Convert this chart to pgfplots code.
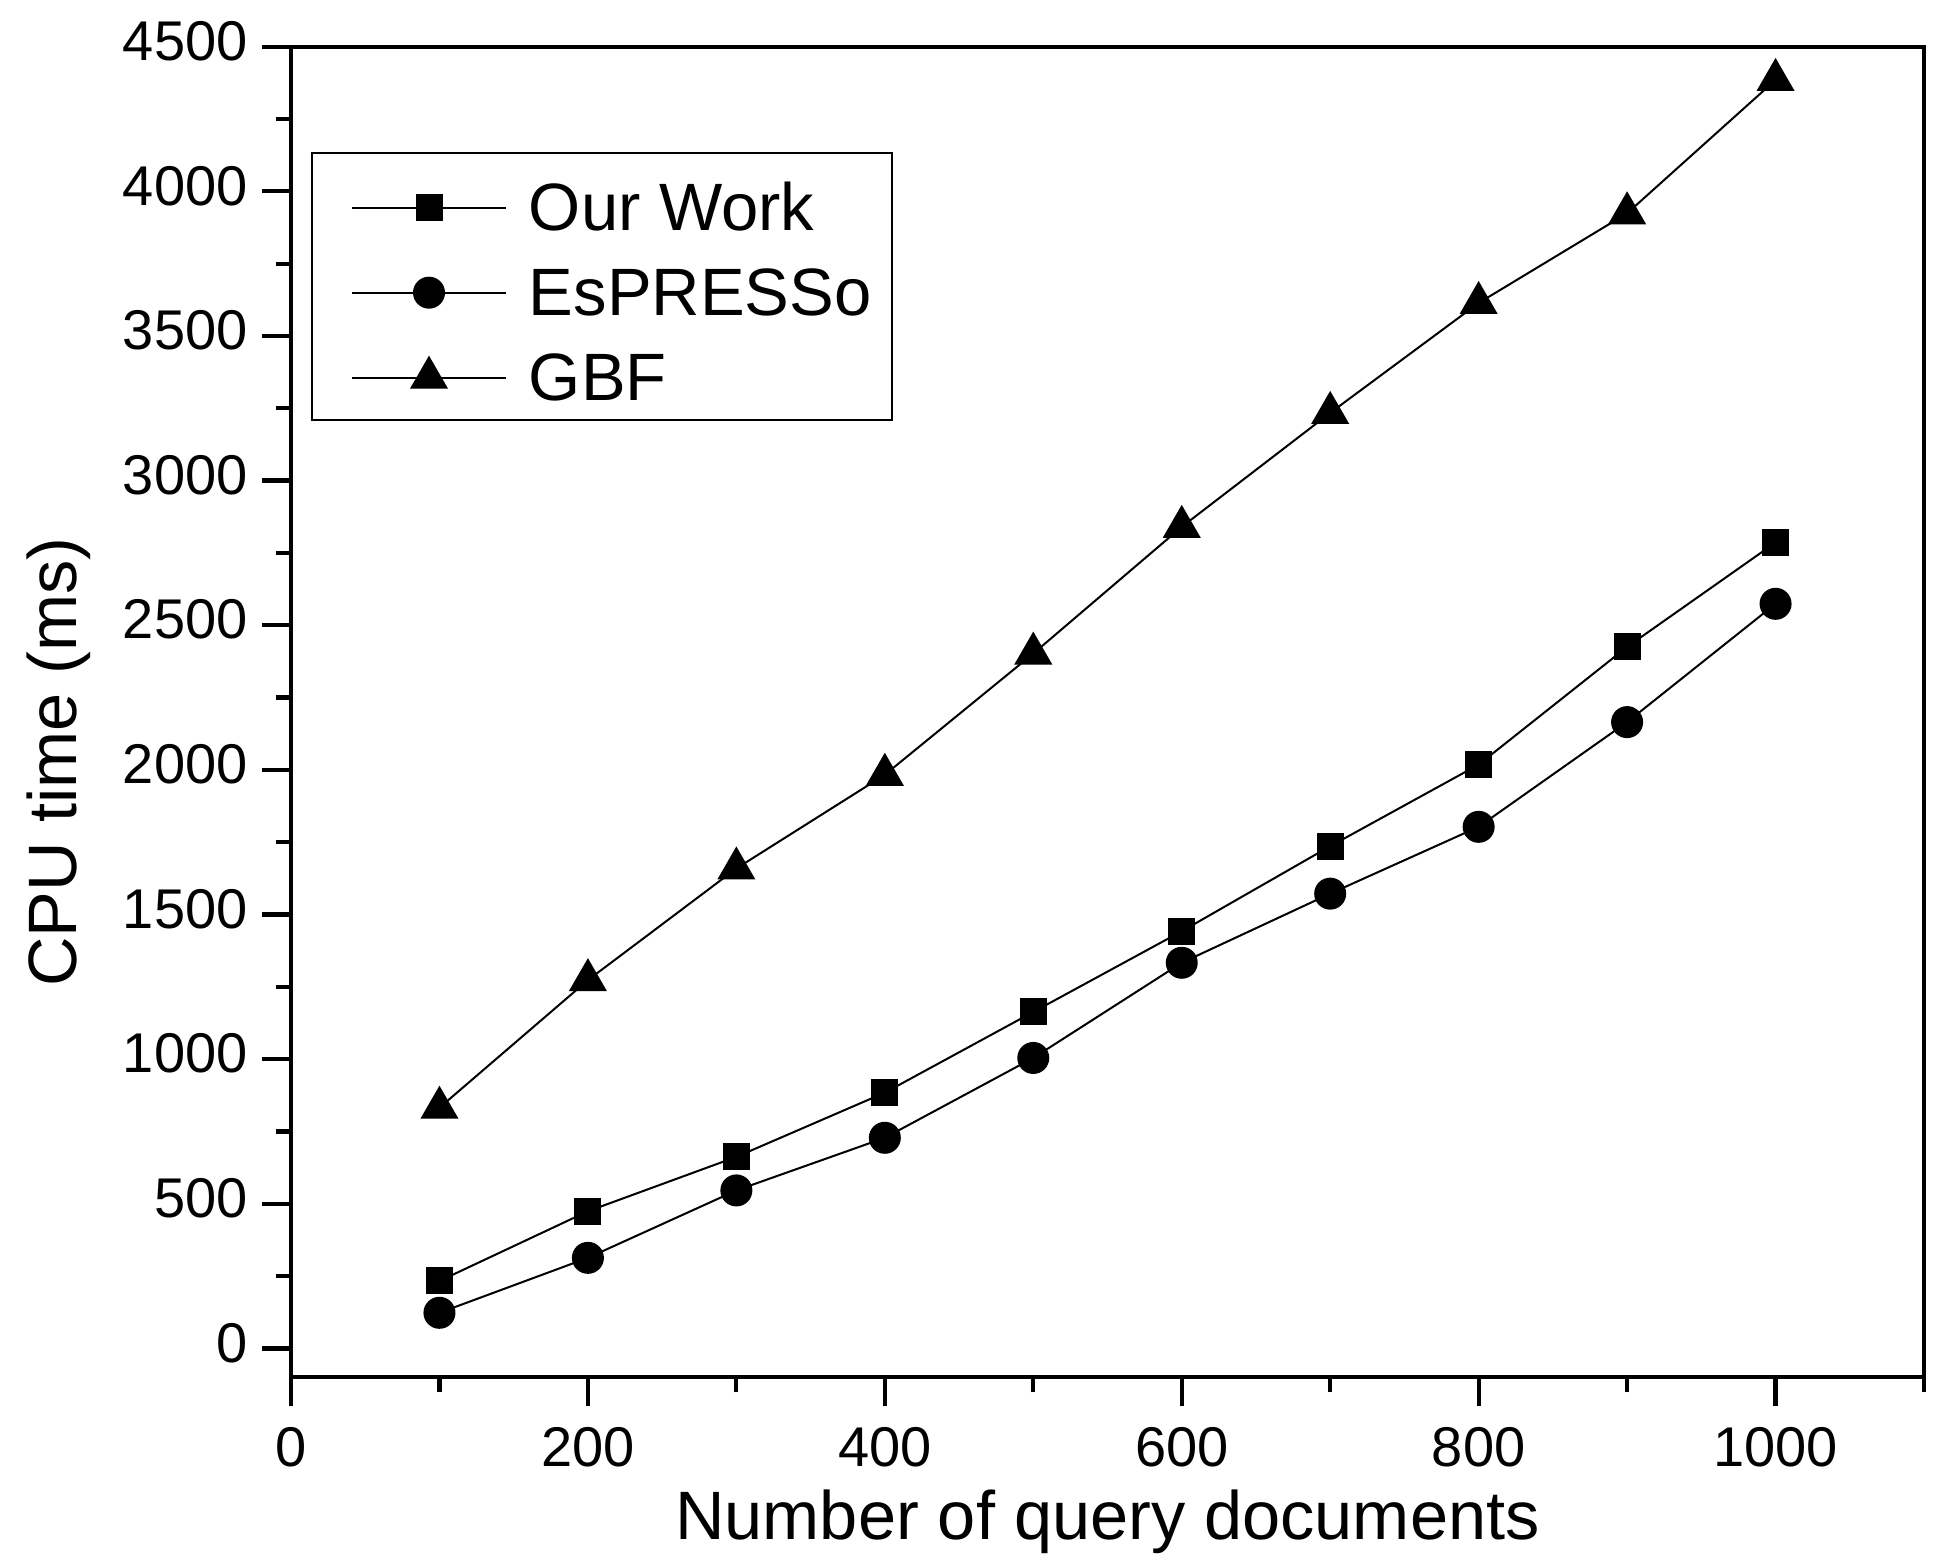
\documentclass[border=0pt]{standalone}
\usepackage{fontspec}
\setmainfont{Liberation Sans}
\usepackage{pgfplots}
\pgfplotsset{compat=1.18}
\begin{document}
\begin{tikzpicture}
\begin{axis}[
  name=ax,
  scale only axis,
  width=326.6pt, height=266.12pt,
  xmin=0, xmax=1100, ymin=-100, ymax=4500,
  xtick={0,200,...,1000},
  ytick={0,500,...,4500},
  minor xtick={100,300,...,1100},
  minor ytick={250,750,...,4250},
  tick pos=left,
  tick align=outside,
  major tick length=5.8pt,
  minor tick length=3pt,
  every tick/.append style={black, line width=0.85pt},
  axis line style={line width=0.85pt},
  /pgf/number format/assume math mode=true,
  /pgf/number format/set thousands separator={},
  ticklabel style={font=\fontsize{11.2}{13}\selectfont, inner sep=0pt},
  yticklabel style={anchor=east, xshift=-2.7pt, yshift=1.1pt},
  xticklabel style={anchor=north, yshift=-4pt},
  xlabel={Number of query documents},
  ylabel={CPU time (ms)},
  every axis x label/.style={at={(axis description cs:0.5,0)}, anchor=base, yshift=-32.4pt, font=\fontsize{13.7}{16}\selectfont},
  every axis y label/.style={at={([xshift=-42.8pt]axis description cs:0,0.4624)}, rotate=90, anchor=base, font=\fontsize{13.7}{16}\selectfont},
  legend style={at={(0,1)}, anchor=north west, xshift=4.1pt, yshift=-21.1pt,
    draw=black, line width=0.4pt, inner xsep=4pt, inner ysep=3.5pt,
    font=\fontsize{13.4}{16}\selectfont,
    nodes={inner sep=0pt, text height=12pt, text depth=0.3pt, anchor=base west},
    row sep=4.7pt,
    /tikz/every odd column/.append style={column sep=4.4pt}},
  legend cell align=left,
  legend image code/.code={
    \draw[mark repeat=2, mark phase=2, #1] plot coordinates {(0pt,4.6pt) (15.4pt,4.6pt) (30.8pt,4.6pt)};
    \path (-3.7pt,4.6pt);
  },
]
\addplot[black, line width=0.4pt, mark=square*, mark size=2.5pt] coordinates {
(100,233) (200,474) (300,662) (400,884) (500,1163) (600,1442) (700,1736) (800,2018) (900,2425) (1000,2786)};
\addlegendentry{Our Work}
\addplot[black, line width=0.4pt, mark=*, mark size=3.0pt] coordinates {
(100,123) (200,313) (300,546) (400,728) (500,1004) (600,1333) (700,1572) (800,1803) (900,2165) (1000,2574)};
\addlegendentry{EsPRESSo}
\addplot[black, line width=0.4pt, mark=triangle*, mark size=4.0pt] coordinates {
(100,832) (200,1273) (300,1659) (400,1983) (500,2402) (600,2840) (700,3234) (800,3614) (900,3924) (1000,4385)};
\addlegendentry{GBF}
\end{axis}
\pgfresetboundingbox
\useasboundingbox ([xshift=-58.2pt,yshift=-37.54pt]ax.south west) rectangle ([xshift=5.4pt,yshift=9.34pt]ax.north east);
\end{tikzpicture}
\end{document}
